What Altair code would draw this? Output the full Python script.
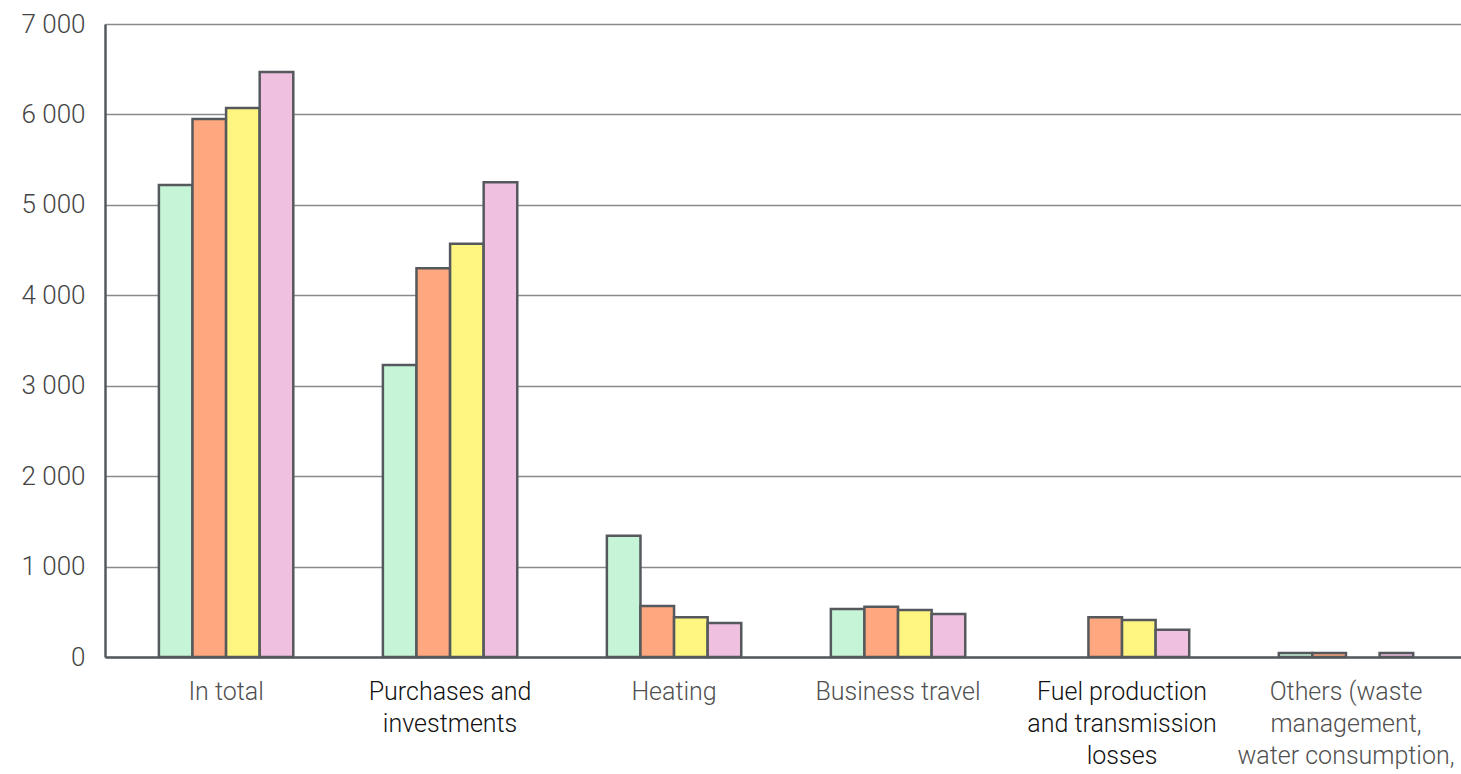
import altair as alt
import pandas as pd

categories = [
    "In total",
    "Purchases and investments",
    "Heating",
    "Business travel",
    "Fuel production and transmission losses",
    "Others (waste management, water consumption,",
]
label_lines = [
    ["In total"],
    ["Purchases and", "investments"],
    ["Heating"],
    ["Business travel"],
    ["Fuel production", "and transmission", "losses"],
    ["Others (waste", "management,", "water consumption,"],
]
dark_labels = ["Purchases and investments", "Fuel production and transmission losses"]

series = ["S1", "S2", "S3", "S4"]
colors = ["#c6f4d6", "#ffa77e", "#fff681", "#f0c0e0"]

values = {
    "S1": [5220, 3230, 1340, 530, None, 45],
    "S2": [5950, 4300, 565, 555, 440, 45],
    "S3": [6070, 4570, 440, 520, 410, None],
    "S4": [6470, 5250, 375, 475, 300, 45],
}

rows = []
for s in series:
    for c, v in zip(categories, values[s]):
        if v is not None:
            rows.append({"category": c, "series": s, "value": v})
df = pd.DataFrame(rows)

# label expression mapping category -> multi-line label
parts = []
for c, lines in zip(categories, label_lines):
    arr = "[" + ",".join("'" + l + "'" for l in lines) + "]"
    parts.append(f"datum.value == '{c}' ? {arr}")
label_expr = " : ".join(parts) + " : datum.value"

dark_test = " || ".join(f"datum.value == '{c}'" for c in dark_labels)

FONT = "Roboto"

chart = (
    alt.Chart(df)
    .mark_bar(stroke="#55595e", strokeWidth=2.5)
    .encode(
        x=alt.X(
            "category:N",
            sort=categories,
            title=None,
            scale=alt.Scale(paddingInner=0.4, paddingOuter=0.227, align=0.53),
            axis=alt.Axis(
                labelAngle=0,
                labelExpr=label_expr,
                labelFont=FONT,
                labelFontSize=25,
                labelFontWeight=300,
                labelLineHeight=32,
                labelPadding=22,
                labelColor={"condition": {"test": dark_test, "value": "#111111"}, "value": "#505050"},
                ticks=False,
                domainColor="#55595e",
                domainWidth=2.5,
                grid=False,
                labelLimit=300,
            ),
        ),
        xOffset=alt.XOffset("series:N", sort=series, scale=alt.Scale(paddingInner=0, paddingOuter=0)),
        y=alt.Y(
            "value:Q",
            title=None,
            scale=alt.Scale(domain=[0, 7000], nice=False),
            axis=alt.Axis(
                values=[0, 1000, 2000, 3000, 4000, 5000, 6000, 7000],
                labelExpr="datum.value == 0 ? '0' : replace(format(datum.value, ',d'), ',', ' ')",
                labelFont=FONT,
                labelFontSize=26,
                labelFontWeight=300,
                labelColor="#444444",
                labelPadding=20,
                ticks=False,
                domainColor="#55595e",
                domainWidth=2.5,
                gridColor="#8a8a8e",
                gridWidth=1.5,
            ),
        ),
        color=alt.Color(
            "series:N",
            sort=series,
            scale=alt.Scale(domain=series, range=colors),
            legend=None,
        ),
    )
    .properties(
        width=1356,
        height=633,
        autosize=alt.AutoSizeParams(type="none"),
        padding={"left": 105, "top": 24, "right": 0, "bottom": 117},
    )
    .configure_view(stroke=None)
    .configure(background="white")
)

chart.save("out.html", embed_options={"renderer": "svg", "actions": False})
